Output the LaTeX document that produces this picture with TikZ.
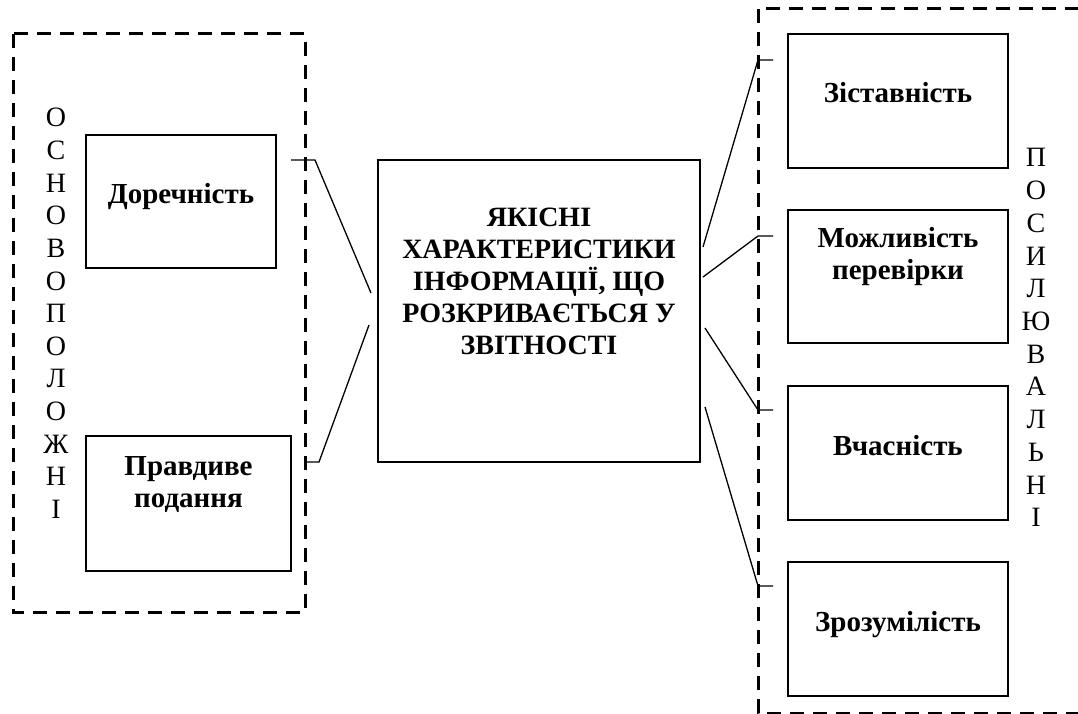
\documentclass[tikz,border=0pt]{standalone}
\usepackage{fontspec}
\setmainfont{Liberation Serif}
\begin{document}
\begin{tikzpicture}[x=1pt,y=-1pt,
  box/.style={draw,line width=1.3pt,inner sep=0pt},
  group/.style={draw,line width=3pt,dash pattern=on 14pt off 9pt},
  link/.style={line width=1.3pt},
  lbl/.style={anchor=base,inner sep=0pt,font=\fontsize{29}{32}\selectfont\bfseries},
  titleline/.style={anchor=base,inner sep=0pt,font=\fontsize{28}{32}\selectfont\bfseries},
  vlet/.style={anchor=base,inner sep=0pt,font=\fontsize{28}{32}\selectfont}]
\useasboundingbox (0,0) rectangle (1078,714);

% dashed group frames
\draw[group] (13,34) rectangle (305,612);
\draw[group] (758,9) rectangle (1100,713);

% left boxes
\node[box,minimum width=190pt,minimum height=133pt] (dor) at (181,201.5) {};
\node[box,minimum width=205pt,minimum height=135pt] (prav) at (188.5,503.5) {};
\node[lbl] (tdor) at (181,204) {Доречність};
\node[lbl] (tprav1) at (188.5,475) {Правдиве};
\node[lbl] (tprav2) at (188.5,507) {подання};

% central box
\node[box,minimum width=322pt,minimum height=302pt] (main) at (539,311) {};
\node[titleline] (m1) at (539,226) {ЯКІСНІ};
\node[titleline] (m2) at (539,258) {ХАРАКТЕРИСТИКИ};
\node[titleline] (m3) at (539,290) {ІНФОРМАЦІЇ, ЩО};
\node[titleline] (m4) at (539,322) {РОЗКРИВАЄТЬСЯ У};
\node[titleline] (m5) at (539,354) {ЗВІТНОСТІ};

% right boxes
\node[box,minimum width=220pt,minimum height=134pt] (zist) at (898,101) {};
\node[box,minimum width=220pt,minimum height=133pt] (mozh) at (898,276.5) {};
\node[box,minimum width=220pt,minimum height=134pt] (vchas) at (898,453) {};
\node[box,minimum width=220pt,minimum height=134pt] (zroz) at (898,629) {};
\node[lbl] (tzist) at (898,103) {Зіставність};
\node[lbl] (tmozh1) at (898,247) {Можливість};
\node[lbl] (tmozh2) at (898,279) {перевірки};
\node[lbl] (tvchas) at (898,455) {Вчасність};
\node[lbl] (tzroz) at (898,631) {Зрозумілість};

% vertical captions
\foreach \ch [count=\i from 0] in {О,С,Н,О,В,О,П,О,Л,О,Ж,Н,І}
  \node[vlet] (a\i) at (56,127+32.6*\i) {\ch};
\foreach \ch [count=\i from 0] in {П,О,С,И,Л,Ю,В,А,Л,Ь,Н,І}
  \node[vlet] (b\i) at (1036,167+32.7*\i) {\ch};

% connector points
\coordinate (l1a) at (291,160);
\coordinate (l1b) at (315,160);
\coordinate (l1c) at (371,293);
\coordinate (l2a) at (306,462);
\coordinate (l2b) at (319,462);
\coordinate (l2c) at (369,325);
\coordinate (r1a) at (703,247);
\coordinate (r1b) at (758,60);
\coordinate (r1c) at (773,60);
\coordinate (r2a) at (703,277);
\coordinate (r2b) at (758,236);
\coordinate (r2c) at (773,236);
\coordinate (r3a) at (705,328);
\coordinate (r3b) at (758,410);
\coordinate (r3c) at (773,410);
\coordinate (r4a) at (705,407);
\coordinate (r4b) at (758,586);
\coordinate (r4c) at (773,586);

% connectors
\draw[link] (l1a) -- (l1b) -- (l1c);
\draw[link] (l2a) -- (l2b) -- (l2c);
\draw[link] (r1a) -- (r1b) -- (r1c);
\draw[link] (r2a) -- (r2b) -- (r2c);
\draw[link] (r3a) -- (r3b) -- (r3c);
\draw[link] (r4a) -- (r4b) -- (r4c);
\end{tikzpicture}
\end{document}
